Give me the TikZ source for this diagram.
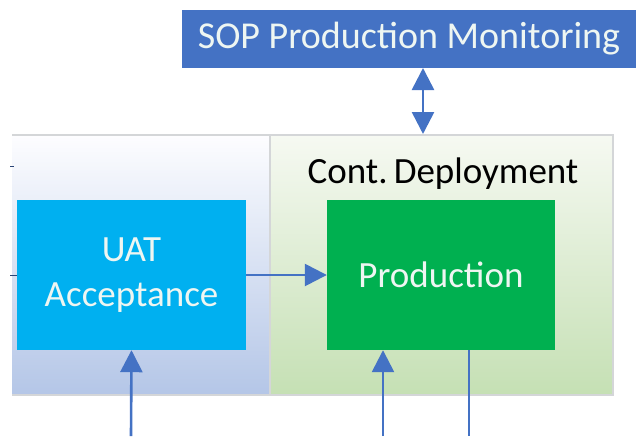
\documentclass[tikz,border=0pt]{standalone}
\usepackage{fontspec}
\setmainfont{Carlito}
\usetikzlibrary{arrows.meta,calc}
\definecolor{sopblue}{HTML}{4472C4}
\definecolor{uatcyan}{HTML}{00B0F0}
\definecolor{prodgreen}{HTML}{00B050}
\definecolor{panelline}{HTML}{D4D6D8}
\definecolor{boxtext}{HTML}{EEF6F2}
\tikzset{
  panel/.style={draw=panelline, line width=1.2pt},
  stagebox/.style={inner sep=0pt, text=boxtext, align=center, font=\fontsize{37}{42}\selectfont},
  tip/.tip={Triangle[length=22pt,width=22pt]},
  arr/.style={draw=sopblue, line width=2.6pt, -tip},
  link/.style={draw=sopblue, line width=2.6pt},
}
\begin{document}
\begin{tikzpicture}[x=1pt,y=-1pt]
\useasboundingbox (0,0) rectangle (636,436);
% stage panels
\shade[top color=white!85!blue!5, bottom color={rgb,255:red,180;green,198;blue,231}] (12,135) rectangle (270,395);
\draw[panel] (12,135) -- (270,135) -- (270,395) -- (12,395);
\shade[top color={rgb,255:red,246;green,249;blue,242}, bottom color={rgb,255:red,197;green,224;blue,180}] (270,135) rectangle (613,395);
\draw[panel] (270,135) rectangle (613,395);
\node[font=\fontsize{37}{42}\selectfont] (cd) at (443,174) {Cont.\,Deployment};
% boxes
\node[fill=sopblue, minimum width=454pt, minimum height=58pt, inner sep=0pt, text=boxtext,
      font=\fontsize{38}{42}\selectfont] (sop) at (409,39) {SOP Production Monitoring};
\node[stagebox, fill=uatcyan, minimum width=229pt, minimum height=150pt] (uat) at (131.5,275)
  {UAT\\[3pt]Acceptance};
\node[stagebox, fill=prodgreen, minimum width=228pt, minimum height=150pt] (prod) at (441,275)
  {Production};
% connectors
\coordinate (mtop) at (423,68);
\coordinate (mbot) at (423,134);
\draw[link, tip-tip] (mtop) -- (mbot);
\draw[arr] (uat) -- (prod);
\coordinate (in1) at (131,436);
\coordinate (in2) at (383,436);
\coordinate (out1) at (469,436);
\draw[arr] (in1) -- (uat.south);
\draw[arr] (in2) -- (prod.south -| in2);
\draw[link] (prod.south -| out1) -- (out1);
% ends of links arriving from the left
\coordinate (s1) at (10,166);
\coordinate (s1e) at (14,166);
\coordinate (s2) at (10,275);
\draw[sopblue!60!black, line width=1pt] (s1) -- (s1e);
\draw[sopblue!60!black, line width=1pt] (s2) -- (uat.west);
\end{tikzpicture}
\end{document}
